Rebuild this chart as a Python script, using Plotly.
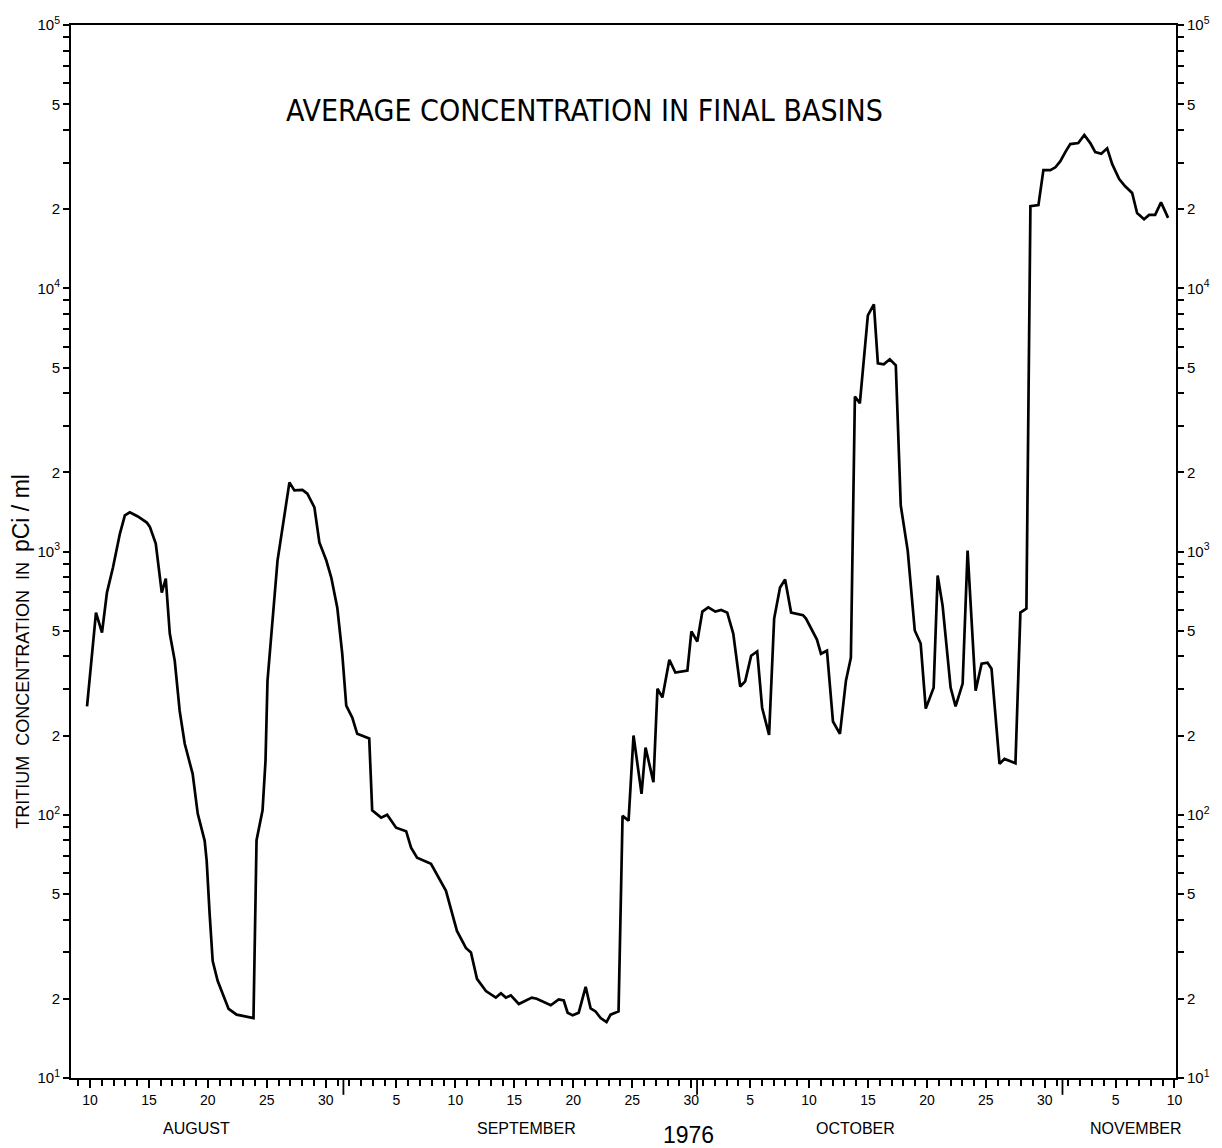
import plotly.graph_objects as go

# ---- data: day index counted from 1 August 1976 (Aug 1 = 1), concentration pCi/ml ----
days = [9.75, 10.51, 11.02, 11.44, 11.95, 12.54, 12.96, 13.38, 14.06, 14.82, 15.08, 15.58,
        16.09, 16.43, 16.77, 17.19, 17.61, 18.04, 18.71, 19.14, 19.73, 19.90, 20.15, 20.41,
        20.83, 21.76, 22.44, 23.87, 24.13, 24.64, 24.89, 25.06, 25.91, 26.92, 27.34, 28.02,
        28.44, 29.04, 29.46, 30.05, 30.47, 30.98, 31.40, 31.74, 32.25, 32.67, 33.69, 33.94,
        34.70, 35.21, 35.97, 36.82, 37.24, 37.75, 38.93, 40.20, 41.13, 41.89, 42.32, 42.83,
        43.59, 44.43, 44.86, 45.28, 45.70, 46.38, 47.48, 47.90, 49.09, 49.76, 50.19, 50.52,
        50.95, 51.46, 52.05, 52.47, 52.89, 53.32, 53.82, 54.16, 54.84, 55.18, 55.69, 56.11,
        56.79, 57.13, 57.80, 58.14, 58.56, 59.15, 59.66, 60.68, 61.02, 61.52, 61.95, 62.45,
        63.05, 63.55, 64.06, 64.57, 65.16, 65.58, 66.09, 66.60, 67.02, 67.61, 68.04, 68.54,
        68.97, 69.48, 70.49, 70.74, 71.67, 72.01, 72.52, 73.03, 73.62, 74.13, 74.55, 74.89,
        75.31, 75.99, 76.50, 76.84, 77.34, 77.85, 78.36, 78.78, 79.37, 79.97, 80.47, 80.90,
        81.57, 81.91, 82.33, 83.01, 83.43, 84.03, 84.45, 84.62, 84.87, 85.13, 85.64, 86.14,
        86.48, 87.16, 87.58, 88.51, 88.93, 89.44, 89.78, 90.46, 90.88, 91.47, 91.90, 92.32,
        92.74, 93.16, 93.84, 94.35, 94.86, 95.28, 95.79, 96.29, 96.72, 97.31, 97.82, 98.41,
        98.83, 99.42, 99.85, 100.36, 100.86, 101.46]
conc = [258, 586, 492, 698, 869, 1170, 1372, 1408, 1359, 1288, 1240, 1072,
        698, 789, 488, 385, 248, 186, 143, 101, 79.6, 66.8, 42, 27.8,
        23.4, 18.3, 17.4, 16.9, 80, 104, 160, 323, 924, 1830, 1706, 1715,
        1660, 1470, 1082, 924, 796, 612, 409, 260, 234, 203, 195, 104,
        97.5, 100, 89.3, 86.6, 75, 68.7, 65.1, 51.4, 36.2, 31.2, 30, 23.8,
        21.4, 20.2, 21, 20.2, 20.6, 19.1, 20.2, 20, 18.9, 19.9, 19.7, 17.7,
        17.3, 17.7, 22.2, 18.4, 17.9, 16.9, 16.3, 17.4, 17.9, 99, 95, 200,
        120, 180, 133, 301, 279, 388, 347, 353, 497, 455, 591, 613,
        591, 600, 586, 488, 307, 321, 402, 417, 255, 201, 556, 730,
        783, 586, 573, 556, 463, 409, 420, 226, 203, 323, 395, 3882,
        3655, 7889, 8688, 5188, 5140, 5370, 5100, 1496, 1008, 501, 447, 253,
        304, 811, 623, 304, 258, 315, 1008, 755, 501, 296, 375, 378,
        359, 156, 163, 157, 586, 607, 20500, 20700, 28100, 28100, 28800, 30400,
        32900, 35300, 35600, 38200, 35600, 32900, 32400, 34000, 29600, 26000, 24400, 23000,
        19300, 18300, 19000, 19000, 21200, 18500]

# x tick labels (day of month) and their positions in the day index
x_tick_pos = [10, 15, 20, 25, 30, 36, 41, 46, 51, 56, 61, 66, 71, 76, 81, 86, 91, 97, 102]
x_tick_text = ["10", "15", "20", "25", "30", "5", "10", "15", "20", "25", "30",
               "5", "10", "15", "20", "25", "30", "5", "10"]
month_bounds = [31.5, 61.5, 92.5]
month_names = ["AUGUST", "SEPTEMBER", "OCTOBER", "NOVEMBER"]
month_label_pos = [19.05, 47.0, 74.9, 98.7]
year_label = "1976"

# y ticks: labelled mantissas, unlabelled mantissas, decades
labelled_mantissas = [1, 2, 5]
unlabelled_mantissas = [3, 4, 6, 7, 8, 9]
decades = [1, 2, 3, 4]
y_tick_vals = [m * 10 ** d for d in decades for m in labelled_mantissas] + [10 ** 5]
y_tick_text = [("10<sup>%d</sup>" % d if m == 1 else str(m))
               for d in decades for m in labelled_mantissas] + ["10<sup>5</sup>"]
y_minor_vals = [m * 10 ** d for d in decades for m in unlabelled_mantissas]

TITLEFONT = "Liberation Sans Narrow, DejaVu Sans Condensed, Liberation Sans, Arial, sans-serif"
BASEFONT = "Liberation Sans, Arial, sans-serif"
TICKFONT = dict(family=BASEFONT, size=15, color="black")

fig = go.Figure()
fig.add_trace(go.Scatter(x=days, y=conc, mode="lines",
                         line=dict(color="black", width=2.7), showlegend=False))
fig.add_trace(go.Scatter(x=days, y=conc, mode="lines", yaxis="y2",
                         line=dict(color="rgba(0,0,0,0)", width=0),
                         showlegend=False, hoverinfo="skip"))

ax_common = dict(type="log", range=[1, 5], tickmode="array",
                 tickvals=y_tick_vals, ticktext=y_tick_text,
                 ticks="outside", ticklen=6, tickwidth=1.5, tickcolor="black",
                 minor=dict(tickmode="array", tickvals=y_minor_vals, ticks="outside",
                            ticklen=6, tickwidth=1.5, tickcolor="black", showgrid=False),
                 showline=True, linecolor="black", linewidth=2,
                 showgrid=False, zeroline=False, tickfont=TICKFONT)

fig.update_layout(
    width=1222, height=1148,
    margin=dict(l=71, r=43, t=25, b=70),
    paper_bgcolor="white", plot_bgcolor="white",
    xaxis=dict(range=[8.39, 102.13], tickmode="array", tickvals=x_tick_pos, ticktext=x_tick_text,
               ticks="outside", ticklen=8, tickwidth=1.5, tickcolor="black",
               minor=dict(dtick=1, tick0=0, ticks="outside", ticklen=6, tickwidth=1.5,
                          tickcolor="black", showgrid=False),
               showline=True, linecolor="black", linewidth=2, mirror=True,
               showgrid=False, zeroline=False,
               tickfont=dict(family=BASEFONT, size=14, color="black")),
    yaxis=dict(side="left", **ax_common),
    yaxis2=dict(side="right", overlaying="y", **ax_common),
)

for b in month_bounds:
    fig.add_shape(type="line", xref="x", yref="paper", x0=b, x1=b, y0=0, y1=-0.016,
                  line=dict(color="black", width=1.8))

for name, pos in zip(month_names, month_label_pos):
    fig.add_annotation(x=pos, y=0, xref="x", yref="paper", yshift=-50, text=name,
                       showarrow=False, yanchor="middle", xanchor="center",
                       font=dict(family=BASEFONT, size=16, color="black"))
fig.add_annotation(x=60.8, y=0, xref="x", yref="paper", yshift=-57, text=year_label,
                   showarrow=False, yanchor="middle", xanchor="center",
                   font=dict(family=BASEFONT, size=23, color="black"))

fig.add_annotation(x=0.465, y=0.919, xref="paper", yref="paper",
                   xanchor="center", yanchor="middle",
                   text="AVERAGE CONCENTRATION IN FINAL BASINS", showarrow=False,
                   font=dict(family=TITLEFONT, size=30, color="black"))

fig.add_annotation(x=-0.046, y=0.405, xref="paper", yref="paper", textangle=-90,
                   xanchor="center", yanchor="middle",
                   text="TRITIUM  CONCENTRATION  IN  <span style='font-size:23px'>pCi / ml</span>",
                   showarrow=False,
                   font=dict(family=BASEFONT, size=18, color="black"))

fig.write_html("out.html")
